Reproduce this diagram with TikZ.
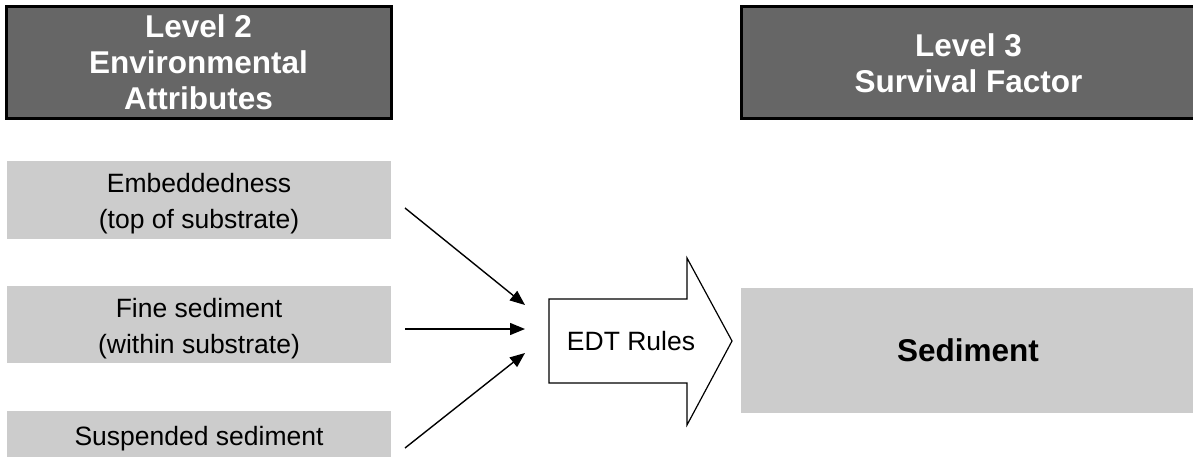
\documentclass[tikz,border=0pt]{standalone}
\usepackage{fontspec}
\setmainfont{Liberation Sans}
\usetikzlibrary{arrows.meta}
\usetikzlibrary{positioning}
\definecolor{headgray}{HTML}{666666}
\definecolor{boxgray}{HTML}{CCCCCC}
\newcommand{\boxstrut}{\rule{0pt}{26.5pt}}
\tikzset{
  levelbox/.style={draw=black, line width=3pt, rectangle, fill=headgray, text=white,
    align=center, inner sep=0pt, font=\fontsize{31.5}{36}\bfseries\selectfont},
  attrbox/.style={rectangle, fill=boxgray, align=center, inner sep=0pt,
    minimum width=384pt, minimum height=77pt, font=\fontsize{26.5}{36}\selectfont},
  feed/.style={-{Triangle[length=15pt,width=12pt]}, line width=1.4pt}
}
\begin{document}
\begin{tikzpicture}[x=1pt,y=-1pt]
            \useasboundingbox (0,0) rectangle (1193,457);
            % Level headers
            \node[levelbox, minimum width=385pt, minimum height=112pt] (lvl2) at (198.5,62.5) {Level 2\\Environmental\\Attributes};
            \node[levelbox, minimum width=454pt, minimum height=112pt] (lvl3) at (968.5,63) {Level 3\\Survival Factor};

            % Level 2 attributes
            \node[attrbox] (embed) at (199,200) {\boxstrut Embeddedness\\(top of substrate)};
            \node[attrbox] (fine) at (199,324.5) {\boxstrut Fine sediment\\(within substrate)};
            \node[attrbox, minimum height=56pt] (susp) at (199,439) {Suspended sediment};

            % EDT rules arrow
            \draw[line width=1.2pt, fill=white] (549,299) -- (687,299) -- (687,258) -- (732,341)
                -- (687,425) -- (687,383) -- (549,383) -- cycle;
            \node[font=\fontsize{26.5}{30}\selectfont] (edt) at (631,341) {EDT Rules};

            % Level 3 factor
            \node[rectangle, fill=boxgray, minimum width=454pt, minimum height=125pt, inner sep=0pt,
                font=\fontsize{31.5}{36}\bfseries\selectfont] (sed) at (968,350) {Sediment};

            \coordinate (embedout) at (405,208);
            \coordinate (fineout) at (405,329);
            \coordinate (suspout) at (405,448);
            \coordinate (in1) at (525,305);
            \coordinate (in2) at (525,329);
            \coordinate (in3) at (525,353);
            \draw[feed] (embedout) -- (in1);
            \draw[feed] (fineout) -- (in2);
            \draw[feed] (suspout) -- (in3);
        \end{tikzpicture}
\end{document}
